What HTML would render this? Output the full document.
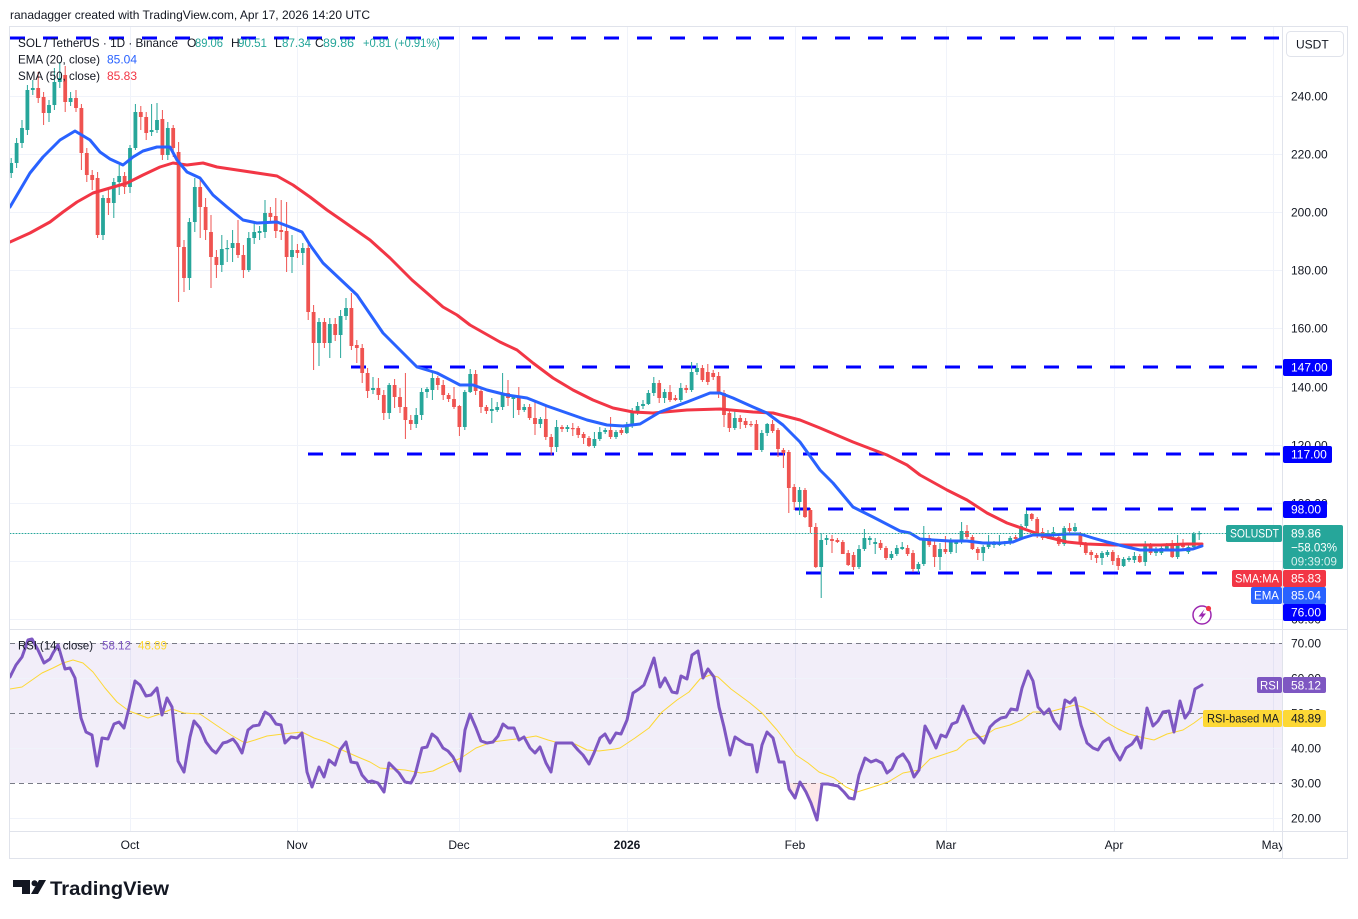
<!DOCTYPE html>
<html><head><meta charset="utf-8"><style>
html,body{margin:0;padding:0;background:#fff;}
svg{display:block;font-family:"Liberation Sans",Arial,sans-serif;}
</style></head><body>
<svg id="s" width="1358" height="919" viewBox="0 0 1358 919" xmlns="http://www.w3.org/2000/svg">
<defs>
<clipPath id="cm"><rect x="10" y="27" width="1272" height="602"/></clipPath>
<clipPath id="cr"><rect x="10" y="630" width="1272" height="201"/></clipPath>
</defs>
<rect x="0" y="0" width="1358" height="919" fill="#fff"/>
<text x="10" y="19" font-size="12" fill="#131722" textLength="360" lengthAdjust="spacingAndGlyphs">ranadagger created with TradingView.com, Apr 17, 2026 14:20 UTC</text>

<!-- grid -->
<g stroke="#f0f3fa" stroke-width="1">
<line x1="10" x2="1282" y1="96.5" y2="96.5"/><line x1="10" x2="1282" y1="154.5" y2="154.5"/>
<line x1="10" x2="1282" y1="212.5" y2="212.5"/><line x1="10" x2="1282" y1="270.5" y2="270.5"/>
<line x1="10" x2="1282" y1="328.5" y2="328.5"/><line x1="10" x2="1282" y1="387.5" y2="387.5"/>
<line x1="10" x2="1282" y1="445.5" y2="445.5"/><line x1="10" x2="1282" y1="503.5" y2="503.5"/>
<line x1="10" x2="1282" y1="561.5" y2="561.5"/><line x1="10" x2="1282" y1="619.5" y2="619.5"/>
<line x1="130.5" x2="130.5" y1="27" y2="831"/><line x1="297.5" x2="297.5" y1="27" y2="831"/>
<line x1="459.5" x2="459.5" y1="27" y2="831"/><line x1="627.5" x2="627.5" y1="27" y2="831"/>
<line x1="795.5" x2="795.5" y1="27" y2="831"/><line x1="946.5" x2="946.5" y1="27" y2="831"/>
<line x1="1114.5" x2="1114.5" y1="27" y2="831"/><line x1="1273.5" x2="1273.5" y1="27" y2="831"/>
</g>

<!-- RSI band -->
<rect x="10" y="643" width="1272" height="140" fill="#7e57c2" fill-opacity="0.1"/>
<g stroke="#f0f3fa" stroke-width="1">
<line x1="10" x2="1282" y1="678.5" y2="678.5"/><line x1="10" x2="1282" y1="748.5" y2="748.5"/><line x1="10" x2="1282" y1="818.5" y2="818.5"/>
</g>
<g stroke="#787b86" stroke-width="1" stroke-dasharray="5 4">
<line x1="10" x2="1282" y1="643.5" y2="643.5"/><line x1="10" x2="1282" y1="713.5" y2="713.5"/><line x1="10" x2="1282" y1="783.5" y2="783.5"/>
</g>

<!-- frame -->
<g stroke="#e0e3eb" stroke-width="1" fill="none">
<rect x="9.5" y="26.5" width="1338" height="832"/>
<line x1="1282.5" x2="1282.5" y1="27" y2="858"/>
<line x1="10" x2="1347" y1="629.5" y2="629.5"/>
<line x1="10" x2="1347" y1="831.5" y2="831.5"/>
</g>

<!-- dashed blue levels -->
<g stroke="#0000ff" stroke-width="3" stroke-dasharray="15 18">
<line x1="10" x2="1282" y1="38" y2="38"/>
<line x1="351" x2="1282" y1="367" y2="367"/>
<line x1="308" x2="1282" y1="454" y2="454"/>
<line x1="795" x2="1282" y1="509" y2="509"/>
<line x1="806" x2="1217" y1="573" y2="573"/>
</g>

<g id="candles" clip-path="url(#cm)"></g>

<g clip-path="url(#cm)" fill="none" stroke-linejoin="round" stroke-linecap="round">
<polyline id="sma" stroke="#f23645" stroke-width="3" points="10,242 30,233 50,222 63,212 77,202 93,193 110,188 127,183 143,175 160,167 173,163 187,165 203,163 217,167 237,170 257,173 277,176 293,185 310,197 327,210 340,219 370,240 390,258 412,280 427,293 443,307 457,315 470,325 500,342 517,350 533,363 553,378 573,390 593,400 613,408 633,412 653,413 687,410 720,409 753,412 773,413 800,420 820,428 853,442 887,455 907,465 920,475 947,490 967,500 987,513 1007,523 1027,530 1047,537 1067,542 1087,544 1113,545 1133,545 1160,545 1187,544 1202,544"/>
<polyline id="ema" stroke="#2962ff" stroke-width="3" points="10,207 30,173 43,157 60,140 75,131 90,140 100,152 110,159 123,165 133,157 143,151 157,147 170,147 177,160 187,172 200,178 213,195 227,207 243,220 257,223 277,222 290,227 302,232 310,245 323,263 340,279 357,295 370,314 383,333 397,347 417,367 437,373 460,385 473,385 487,390 507,395 527,398 547,406 567,413 587,420 607,425 623,426 640,424 660,412 687,402 710,393 720,393 733,398 753,407 767,413 783,425 800,442 820,470 833,483 853,507 873,517 900,531 910,533 920,539 933,540 950,541 967,541 983,543 1000,543 1013,542 1023,538 1033,535 1050,535 1067,534 1080,534 1093,538 1107,542 1127,547 1140,550 1160,550 1180,550 1193,549 1202,546"/>
<line x1="10" x2="1282" y1="533.5" y2="533.5" stroke="#26a69a" stroke-width="1" stroke-dasharray="1 2"/>
</g>

<!-- RSI -->
<g clip-path="url(#cr)" fill="none" stroke-linejoin="round" stroke-linecap="round">
<polygon fill="#f23645" fill-opacity="0.12" stroke="none" points="786,783 789,789 795,798 800,783 806,792 811,803 817,820 822,783"/>
<polyline stroke="#fdd835" stroke-width="1" points="10,689 22,687 42,673 53,668 63,663 73,660 83,663 93,672 105,688 117,702 129,711 148,718 160,714 172,709 184,713 200,714 216,725 231,735 245,743 255,740 267,736 283,734 302,732 314,738 326,742 342,750 358,757 370,762 380,768 393,769 405,770 421,773 433,771 445,765 461,758 476,748 492,742 508,740 524,738 536,736 548,740 559,743 575,744 587,750 599,751 615,749 620,748 635,738 649,728 662,712 677,700 689,692 700,679 710,675 718,677 731,689 750,703 762,713 777,730 796,755 808,763 819,772 834,778 846,787 857,792 873,787 888,782 903,773 919,770 930,759 945,754 957,750 968,740 984,736 995,729 1010,725 1022,720 1033,712 1049,712 1064,708 1075,705 1083,707 1095,713 1106,722 1118,729 1129,734 1140,737 1154,740 1167,734 1183,730 1194,723 1202,717"/>
<polyline stroke="#7e57c2" stroke-width="3" points="10,677 16,665 22,657 28,640 32,639 38,650 44,663 50,659 53,653 58,645 65,669 70,668 75,678 81,718 86,732 92,735 97,766 102,738 108,739 114,724 119,722 124,728 129,708 135,681 140,685 146,696 151,695 157,688 162,715 167,698 172,707 178,761 184,772 190,737 194,721 200,728 206,742 212,750 216,753 223,743 227,742 233,739 237,744 242,753 248,730 253,726 259,725 265,712 270,715 276,724 281,725 285,743 291,737 297,738 302,733 307,772 312,787 319,767 324,777 329,760 335,765 340,750 346,742 351,762 357,763 362,775 368,782 372,781 378,783 384,792 389,763 394,768 399,773 405,782 411,783 415,775 422,748 427,747 432,734 437,738 443,748 448,751 453,757 460,771 465,730 470,714 476,728 481,741 487,743 493,742 498,736 503,724 508,728 514,728 519,740 524,737 530,748 535,753 540,747 546,763 551,772 556,743 561,743 567,743 572,743 578,750 583,755 589,764 594,753 600,738 605,734 610,743 616,733 621,734 627,720 633,693 639,689 644,685 649,672 654,658 660,687 665,678 672,692 677,693 681,676 687,679 692,655 698,651 703,678 708,669 714,677 719,707 724,727 730,755 735,737 741,741 746,744 752,745 757,772 762,745 767,732 773,738 779,762 784,762 789,789 795,798 800,782 806,792 811,803 817,820 822,784 828,784 833,785 838,786 844,792 849,798 854,799 859,775 865,758 871,762 876,760 882,763 887,773 892,769 897,758 903,754 909,763 914,777 919,770 925,726 930,735 936,748 941,735 946,737 952,724 957,722 963,706 968,717 974,732 979,737 984,743 990,727 995,722 1001,718 1006,717 1011,709 1017,710 1022,688 1028,671 1033,681 1038,707 1044,714 1049,709 1054,721 1060,729 1065,700 1070,703 1075,698 1081,725 1087,743 1093,748 1098,750 1103,742 1109,738 1114,750 1120,760 1126,748 1132,744 1137,737 1141,748 1147,708 1153,726 1158,721 1163,712 1169,711 1174,732 1180,701 1185,718 1190,711 1195,689 1202,685"/>
</g>

<!-- legends -->
<g font-size="12">
<text x="18" y="47" fill="#131722" textLength="160" lengthAdjust="spacingAndGlyphs">SOL / TetherUS · 1D · Binance</text>
<text x="187" y="47" fill="#131722">O</text><text x="195" y="47" fill="#26a69a" textLength="28" lengthAdjust="spacingAndGlyphs">89.06</text>
<text x="231" y="47" fill="#131722">H</text><text x="238" y="47" fill="#26a69a" textLength="29" lengthAdjust="spacingAndGlyphs">90.51</text>
<text x="275" y="47" fill="#131722">L</text><text x="282" y="47" fill="#26a69a" textLength="29" lengthAdjust="spacingAndGlyphs">87.34</text>
<text x="315" y="47" fill="#131722">C</text><text x="323" y="47" fill="#26a69a" textLength="31" lengthAdjust="spacingAndGlyphs">89.86</text>
<text x="363" y="47" fill="#26a69a" textLength="77" lengthAdjust="spacingAndGlyphs">+0.81 (+0.91%)</text>
<text x="18" y="63.5" fill="#131722" textLength="82" lengthAdjust="spacingAndGlyphs">EMA (20, close)</text><text x="107" y="63.5" fill="#2962ff" textLength="30" lengthAdjust="spacingAndGlyphs">85.04</text>
<text x="18" y="80" fill="#131722" textLength="82" lengthAdjust="spacingAndGlyphs">SMA (50, close)</text><text x="107" y="80" fill="#f23645" textLength="30" lengthAdjust="spacingAndGlyphs">85.83</text>
<text x="18" y="649.5" fill="#131722" textLength="75" lengthAdjust="spacingAndGlyphs">RSI (14, close)</text><text x="102" y="649.5" fill="#7e57c2" textLength="29" lengthAdjust="spacingAndGlyphs">58.12</text><text x="138" y="649.5" fill="#fdd835" textLength="29" lengthAdjust="spacingAndGlyphs">48.89</text>
</g>

<!-- price axis -->
<rect x="1286.5" y="31.5" width="57" height="25" rx="4" fill="#fff" stroke="#e0e3eb"/>
<g font-size="12" fill="#131722">
<text x="1296" y="48.5">USDT</text>
<text x="1291" y="100.5">240.00</text><text x="1291" y="158.5">220.00</text>
<text x="1291" y="216.5">200.00</text><text x="1291" y="274.5">180.00</text>
<text x="1291" y="332.5">160.00</text><text x="1291" y="391.5">140.00</text>
<text x="1291" y="449.5">120.00</text><text x="1291" y="507.5">100.00</text>
<text x="1291" y="565.5">80.00</text><text x="1291" y="623.5">60.00</text>
<text x="1291" y="647.5">70.00</text><text x="1291" y="682.5">60.00</text>
<text x="1291" y="717.5">50.00</text><text x="1291" y="752.5">40.00</text>
<text x="1291" y="787.5">30.00</text><text x="1291" y="822.5">20.00</text>
</g>
<g font-size="12">
<rect x="1283" y="359" width="49" height="17" rx="2" fill="#0000ff"/><text x="1291" y="371.5" fill="#fff">147.00</text>
<rect x="1283" y="446" width="49" height="17" rx="2" fill="#0000ff"/><text x="1291" y="458.5" fill="#fff">117.00</text>
<rect x="1283" y="501" width="44" height="17" rx="2" fill="#0000ff"/><text x="1291" y="513.5" fill="#fff">98.00</text>
<rect x="1226" y="525" width="56" height="17" rx="2" fill="#26a69a"/><text x="1230" y="537.5" fill="#fff" textLength="49" lengthAdjust="spacingAndGlyphs">SOLUSDT</text>
<rect x="1283" y="525" width="60" height="44" rx="2" fill="#26a69a"/>
<text x="1291" y="537.5" fill="#fff">89.86</text>
<text x="1291" y="551.5" fill="#fff" textLength="46" lengthAdjust="spacingAndGlyphs">−58.03%</text>
<text x="1291" y="565.5" fill="#d4efec" textLength="46" lengthAdjust="spacingAndGlyphs">09:39:09</text>
<rect x="1232" y="570" width="50" height="17" rx="2" fill="#f23645"/><text x="1235" y="582.5" fill="#fff" textLength="44" lengthAdjust="spacingAndGlyphs">SMA:MA</text>
<rect x="1283" y="570" width="43" height="17" rx="2" fill="#f23645"/><text x="1291" y="582.5" fill="#fff">85.83</text>
<rect x="1251" y="587" width="31" height="17" rx="2" fill="#2962ff"/><text x="1254" y="599.5" fill="#fff" textLength="25" lengthAdjust="spacingAndGlyphs">EMA</text>
<rect x="1283" y="587" width="43" height="17" rx="2" fill="#2962ff"/><text x="1291" y="599.5" fill="#fff">85.04</text>
<rect x="1283" y="604" width="43" height="17" rx="2" fill="#0000ff"/><text x="1291" y="616.5" fill="#fff">76.00</text>
<rect x="1257" y="677" width="25" height="16" rx="2" fill="#7e57c2"/><text x="1260" y="689.5" fill="#fff" textLength="19" lengthAdjust="spacingAndGlyphs">RSI</text>
<rect x="1283" y="677" width="43" height="16" rx="2" fill="#7e57c2"/><text x="1291" y="689.5" fill="#fff">58.12</text>
<rect x="1203" y="710" width="79" height="17" rx="2" fill="#fdd835"/><text x="1207" y="722.5" fill="#131722" textLength="72" lengthAdjust="spacingAndGlyphs">RSI-based MA</text>
<rect x="1283" y="710" width="43" height="17" rx="2" fill="#fdd835"/><text x="1291" y="722.5" fill="#131722">48.89</text>
</g>

<!-- lightning icon -->
<circle cx="1202" cy="615" r="9" fill="#fff" stroke="#9c27b0" stroke-width="1.5"/>
<path d="M1204.5 609 L1198.5 616.5 L1202 616.5 L1199.5 621.5 L1206 613.5 L1202.5 613.5 Z" fill="#9c27b0"/>
<circle cx="1208.5" cy="608.5" r="2.6" fill="#f23645"/>

<!-- time axis -->
<g font-size="12" fill="#131722" text-anchor="middle">
<text x="130" y="849">Oct</text><text x="297" y="849">Nov</text><text x="459" y="849">Dec</text>
<text x="627" y="849" font-weight="bold">2026</text><text x="795" y="849">Feb</text>
<text x="946" y="849">Mar</text><text x="1114" y="849">Apr</text>
</g>
<svg x="1255" y="832" width="27" height="25"><text x="18" y="17" font-size="12" fill="#131722" text-anchor="middle" font-family="Liberation Sans, sans-serif">May</text></svg>

<!-- logo -->
<g fill="#131722">
<path d="M13 880 H30 V894 H22 V887 H13 Z"/>
<circle cx="34.5" cy="883.3" r="3"/>
<polygon points="39,880 46,880 38,894 31,894"/>
<text x="50" y="895" font-size="19" font-weight="bold" textLength="119" lengthAdjust="spacingAndGlyphs">TradingView</text>
</g>
</svg>
<script>
(function(){
var C=[[173,163,158,178],[163,143,138,168],[143,128,120,148],[130,90,85,135],[90,88,80,95],[88,98,72,103],[97,113,92,125],[113,105,100,122],[105,82,68,110],[82,78,62,88],
[75,102,66,112],[102,98,92,106],[98,108,90,112],[108,153,104,170],[153,175,148,182],[175,180,170,190],[178,235,172,238],[235,198,195,240],[198,203,190,215],[203,182,178,218],
[182,176,165,195],[176,187,172,194],[187,148,145,193],[148,112,104,150],[112,117,106,130],[117,133,112,140],[132,130,104,136],[130,120,103,133],[119,155,110,160],[155,128,122,160],
[128,148,125,157],[152,247,142,302],[247,278,240,292],[278,222,218,290],[222,187,178,232],[187,207,180,238],[207,230,198,240],[232,257,215,288],[257,265,250,278],[265,249,235,272],
[249,248,240,262],[248,243,230,262],[243,255,220,258],[255,270,245,278],[270,238,232,272],[238,232,222,244],[233,231,226,240],[232,213,200,238],[213,217,207,222],[216,231,198,238],
[230,232,200,240],[231,257,202,272],[257,250,235,273],[250,253,244,258],[253,248,243,265],[248,312,242,320],[312,343,305,370],[343,322,318,366],[322,343,318,348],[343,324,318,358],
[324,335,318,341],[335,316,310,358],[316,308,298,320],[308,346,293,350],[345,348,340,363],[348,373,344,383],[373,391,368,398],[390,388,377,394],[388,395,378,400],[395,413,390,420],
[413,385,383,419],[385,397,379,408],[397,407,388,413],[407,420,373,439],[420,424,415,430],[424,415,408,428],[415,392,388,420],[392,389,387,398],[390,378,373,400],[378,385,376,390],
[385,395,380,400],[395,399,393,402],[399,407,387,409],[406,427,405,436],[427,392,390,430],[392,374,369,393],[374,391,370,395],[391,407,388,413],[407,411,405,414],[411,409,398,423],
[410,407,402,412],[407,393,373,410],[393,398,380,406],[399,397,396,418],[398,410,387,415],[410,407,404,412],[407,418,404,420],[418,424,400,435],[424,419,417,428],[419,437,406,440],
[437,447,434,455],[447,427,420,452],[427,429,425,432],[429,427,425,432],[428,429,423,436],[428,435,426,438],[434,438,432,444],[438,446,436,447],[446,439,432,448],[439,432,427,441],
[432,430,428,434],[430,437,417,439],[437,432,430,439],[430,433,428,435],[433,426,422,434],[426,412,408,428],[412,406,402,415],[406,404,400,409],[404,393,390,405],[393,383,377,396],
[383,398,380,403],[398,392,389,403],[392,400,385,402],[398,400,395,401],[400,388,383,402],[388,390,385,393],[390,372,362,392],[372,368,363,375],[368,380,365,382],[372,382,364,385],
[373,377,370,380],[376,393,372,398],[393,415,390,427],[413,428,410,432],[428,418,410,430],[418,422,415,429],[421,425,418,428],[424,425,421,427],[424,450,420,450],[450,433,430,452],
[433,424,423,436],[424,431,420,433],[430,449,428,457],[450,453,448,468],[452,488,450,513],[487,502,484,510],[502,490,487,515],[490,517,488,518],[510,527,508,533],[527,567,523,568],
[567,540,533,598],[540,538,535,545],[539,541,535,553],[540,542,538,543],[542,554,540,554],[553,565,550,566],[555,567,552,570],[567,549,545,569],[549,538,529,551],[540,538,536,545],
[544,542,538,554],[543,548,540,550],[548,558,546,560],[558,554,551,560],[554,548,545,556],[549,547,542,550],[548,554,545,556],[553,569,550,572],[569,564,562,573],[564,538,526,566],
[538,545,535,547],[545,557,541,567],[557,549,543,570],[549,552,536,554],[552,542,538,554],[544,542,540,553],[542,531,522,544],[531,537,525,539],[537,549,535,550],[549,553,547,560],
[553,547,545,561],[547,542,535,549],[545,543,541,548],[545,542,535,546],[544,542,541,546],[543,538,536,545],[537,539,535,541],[538,526,524,540],[526,514,510,528],[514,519,513,521],
[519,535,517,538],[532,538,528,540],[538,533,530,539],[535,532,527,537],[537,544,535,546],[544,528,526,546],[528,531,523,533],[531,527,523,532],[533,544,532,547],[544,553,542,555],
[552,555,550,560],[555,558,553,563],[558,553,551,565],[555,552,550,557],[552,561,550,565],[558,566,555,570],[566,559,557,567],[560,558,556,562],[560,556,552,563],[556,562,554,563],
[562,545,541,566],[545,553,543,555],[553,550,547,556],[553,548,546,555],[549,545,543,551],[545,557,540,558],[557,543,535,559],[543,547,539,549],[552,547,545,554],[547,534,532,549],
[534,533,531,540]];
var NS='http://www.w3.org/2000/svg';
var g=document.getElementById('candles');
for(var i=0;i<C.length;i++){
 var cx=11.2+5.4*i, c=C[i], o=c[0], cl=c[1], hi=c[2], lo=c[3];
 var col=(cl<=o)?'#26a69a':'#ef5350';
 var bt=Math.min(o,cl), bb=Math.max(o,cl), bh=Math.max(bb-bt,1.2);
 var ln=document.createElementNS(NS,'line');
 ln.setAttribute('x1',String(cx));ln.setAttribute('x2',String(cx));
 ln.setAttribute('y1',String(hi));ln.setAttribute('y2',String(lo));
 ln.setAttribute('stroke',col);ln.setAttribute('stroke-width','1');
 g.appendChild(ln);
 var r=document.createElementNS(NS,'rect');
 r.setAttribute('x',String(cx-1.9));r.setAttribute('y',String(bt));
 r.setAttribute('width','3.8');r.setAttribute('height',String(bh));
 r.setAttribute('fill',col);
 g.appendChild(r);
}
})();
</script>
</body></html>
